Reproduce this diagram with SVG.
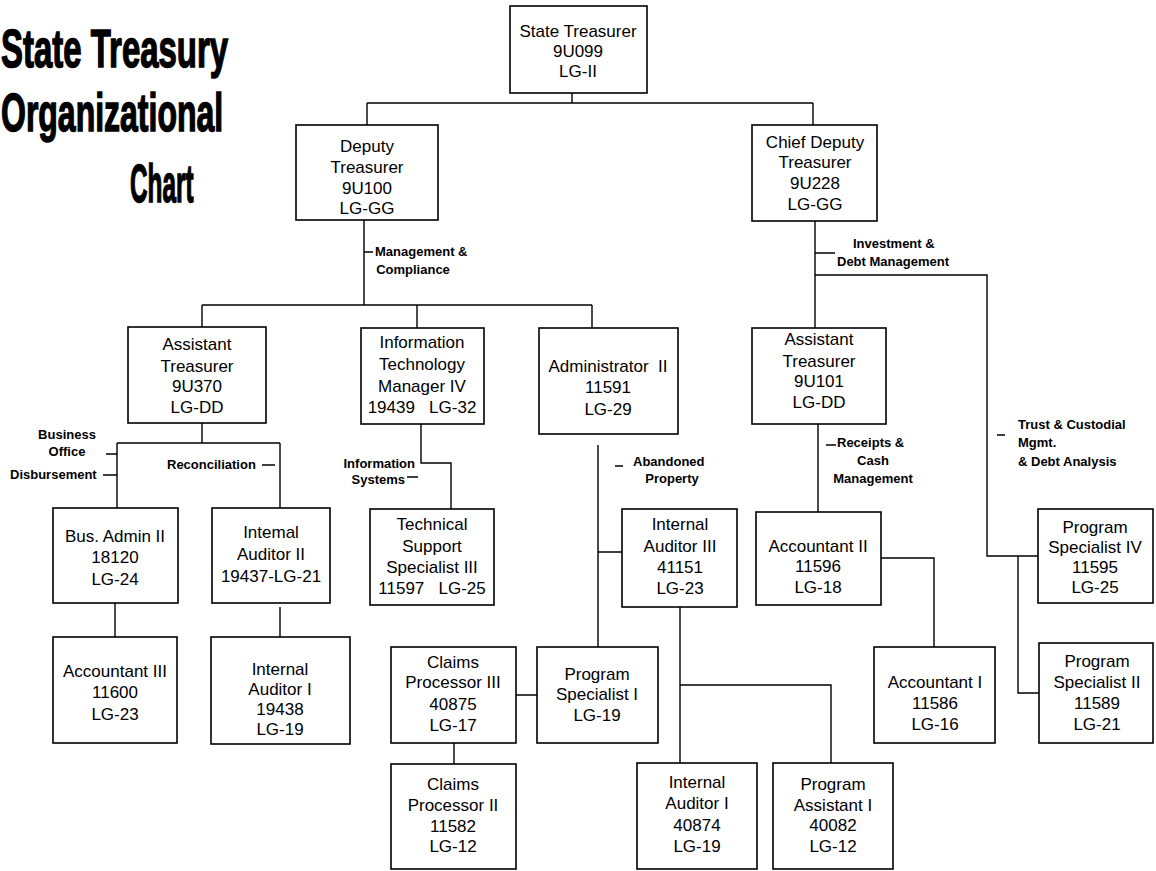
<svg xmlns="http://www.w3.org/2000/svg" width="1156" height="871" viewBox="0 0 1156 871">
<style>
.box{fill:#fff;stroke:#000;stroke-width:1.6}
.n{font-family:"Liberation Sans",Arial,sans-serif;font-size:17px;fill:#000;text-anchor:middle}
.lbl{font-family:"Liberation Sans",Arial,sans-serif;font-size:13px;font-weight:bold;fill:#000}
.c{fill:none;stroke:#000;stroke-width:1.4}
.title{font-family:"Liberation Sans",Arial,sans-serif;font-size:32px;font-weight:bold;fill:#000;stroke:#000;stroke-width:0.9}
</style>
<rect width="1156" height="871" fill="#fff"/>
<g id="title">
<text class="title" transform="translate(1,67) scale(1.03,1.7)">State Treasury</text>
<text class="title" transform="translate(1,131) scale(1.0,1.7)">Organizational</text>
<text class="title" transform="translate(130,202) scale(0.76,1.7)">Chart</text>
</g>
<g id="connectors">
<path class="c" d="M572,93V103M367,103H813M367,103V125M813,103V125"/>
<path class="c" d="M364,220V305M202,305H592M202,305V327M417,305V328M592,305V328M364,252H373"/>
<path class="c" d="M815,221V328M815,253H835M815,275H987V556H1038M1018,556V693H1039M997,435H1005"/>
<path class="c" d="M818,424V512M826,445H836M881,558H934V647"/>
<path class="c" d="M202,423V443M117,443H280M117,443V508M280,443V508M106,454H117M103,475H117M262,465H275"/>
<path class="c" d="M115,603V637M280,607V637"/>
<path class="c" d="M421,424V463H451V509M407,477H418"/>
<path class="c" d="M598,445V647M598,552H622M615,466H623"/>
<path class="c" d="M516,695H537M454,743V764"/>
<path class="c" d="M680,607V763M680,685H831V763"/>
</g>
<g id="labels">
<text class="lbl" x="375" y="256">Management &amp;</text>
<text class="lbl" x="413" y="274" text-anchor="middle">Compliance</text>
<text class="lbl" x="853" y="248">Investment &amp;</text>
<text class="lbl" x="837" y="266">Debt Management</text>
<text class="lbl" x="1018" y="429">Trust &amp; Custodial</text>
<text class="lbl" x="1018" y="447">Mgmt.</text>
<text class="lbl" x="1018" y="466">&amp; Debt Analysis</text>
<text class="lbl" x="837" y="447">Receipts &amp;</text>
<text class="lbl" x="873" y="465" text-anchor="middle">Cash</text>
<text class="lbl" x="873" y="483" text-anchor="middle">Management</text>
<text class="lbl" x="67" y="439" text-anchor="middle">Business</text>
<text class="lbl" x="67" y="456" text-anchor="middle">Office</text>
<text class="lbl" x="10" y="479">Disbursement</text>
<text class="lbl" x="167" y="469">Reconciliation</text>
<text class="lbl" x="415" y="468" text-anchor="end">Information</text>
<text class="lbl" x="405" y="484" text-anchor="end">Systems</text>
<text class="lbl" x="633" y="466">Abandoned</text>
<text class="lbl" x="672" y="483" text-anchor="middle">Property</text>
</g>
<g id="n-state-treasurer"><rect class="box" x="510" y="6" width="137" height="87"/>
<text class="n" x="578" y="37">State Treasurer</text><text class="n" x="578" y="57">9U099</text><text class="n" x="578" y="77">LG-II</text></g>
<g id="n-deputy-treasurer"><rect class="box" x="296" y="125" width="142" height="95"/>
<text class="n" x="367" y="152">Deputy</text><text class="n" x="367" y="173">Treasurer</text><text class="n" x="367" y="194">9U100</text><text class="n" x="367" y="214">LG-GG</text></g>
<g id="n-chief-deputy"><rect class="box" x="752" y="125" width="125" height="96"/>
<text class="n" x="815" y="148">Chief Deputy</text><text class="n" x="815" y="168">Treasurer</text><text class="n" x="815" y="189">9U228</text><text class="n" x="815" y="210">LG-GG</text></g>
<g id="n-asst-treasurer-1"><rect class="box" x="128" y="327" width="138" height="96"/>
<text class="n" x="197" y="350">Assistant</text><text class="n" x="197" y="372">Treasurer</text><text class="n" x="197" y="392">9U370</text><text class="n" x="197" y="413">LG-DD</text></g>
<g id="n-it-manager"><rect class="box" x="361" y="328" width="123" height="96"/>
<text class="n" x="422" y="348">Information</text><text class="n" x="422" y="370">Technology</text><text class="n" x="422" y="392">Manager IV</text><text class="n" x="422" y="413" xml:space="preserve">19439   LG-32</text></g>
<g id="n-administrator"><rect class="box" x="539" y="328" width="139" height="106"/>
<text class="n" x="608" y="372" xml:space="preserve">Administrator  II</text><text class="n" x="608" y="393">11591</text><text class="n" x="608" y="415">LG-29</text></g>
<g id="n-asst-treasurer-2"><rect class="box" x="752" y="328" width="134" height="96"/>
<text class="n" x="819" y="345">Assistant</text><text class="n" x="819" y="367">Treasurer</text><text class="n" x="819" y="387">9U101</text><text class="n" x="819" y="408">LG-DD</text></g>
<g id="n-bus-admin"><rect class="box" x="53" y="508" width="125" height="95"/>
<text class="n" x="115" y="542">Bus. Admin II</text><text class="n" x="115" y="563">18120</text><text class="n" x="115" y="585">LG-24</text></g>
<g id="n-internal-auditor-2"><rect class="box" x="212" y="508" width="118" height="95"/>
<text class="n" x="271" y="538">Intemal</text><text class="n" x="271" y="560">Auditor II</text><text class="n" x="271" y="582">19437-LG-21</text></g>
<g id="n-accountant-3"><rect class="box" x="53" y="637" width="124" height="106"/>
<text class="n" x="115" y="677">Accountant III</text><text class="n" x="115" y="698">11600</text><text class="n" x="115" y="720">LG-23</text></g>
<g id="n-internal-auditor-1a"><rect class="box" x="211" y="637" width="139" height="107"/>
<text class="n" x="280" y="675">Internal</text><text class="n" x="280" y="695">Auditor I</text><text class="n" x="280" y="715">19438</text><text class="n" x="280" y="735">LG-19</text></g>
<g id="n-tech-support"><rect class="box" x="370" y="509" width="124" height="96"/>
<text class="n" x="432" y="530">Technical</text><text class="n" x="432" y="552">Support</text><text class="n" x="432" y="573">Specialist III</text><text class="n" x="432" y="594" xml:space="preserve">11597   LG-25</text></g>
<g id="n-internal-auditor-3"><rect class="box" x="622" y="509" width="115" height="98"/>
<text class="n" x="680" y="530">Internal</text><text class="n" x="680" y="552">Auditor III</text><text class="n" x="680" y="573">41151</text><text class="n" x="680" y="594">LG-23</text></g>
<g id="n-claims-3"><rect class="box" x="391" y="647" width="125" height="96"/>
<text class="n" x="453" y="668">Claims</text><text class="n" x="453" y="688">Processor III</text><text class="n" x="453" y="710">40875</text><text class="n" x="453" y="731">LG-17</text></g>
<g id="n-program-spec-1"><rect class="box" x="537" y="647" width="121" height="96"/>
<text class="n" x="597" y="680">Program</text><text class="n" x="597" y="700">Specialist I</text><text class="n" x="597" y="721">LG-19</text></g>
<g id="n-claims-2"><rect class="box" x="391" y="764" width="125" height="105"/>
<text class="n" x="453" y="790">Claims</text><text class="n" x="453" y="811">Processor II</text><text class="n" x="453" y="832">11582</text><text class="n" x="453" y="852">LG-12</text></g>
<g id="n-internal-auditor-1b"><rect class="box" x="637" y="763" width="120" height="106"/>
<text class="n" x="697" y="788">Internal</text><text class="n" x="697" y="809">Auditor I</text><text class="n" x="697" y="831">40874</text><text class="n" x="697" y="852">LG-19</text></g>
<g id="n-program-asst-1"><rect class="box" x="773" y="763" width="120" height="106"/>
<text class="n" x="833" y="790">Program</text><text class="n" x="833" y="811">Assistant I</text><text class="n" x="833" y="831">40082</text><text class="n" x="833" y="852">LG-12</text></g>
<g id="n-accountant-2"><rect class="box" x="756" y="512" width="125" height="93"/>
<text class="n" x="818" y="552">Accountant II</text><text class="n" x="818" y="572">11596</text><text class="n" x="818" y="593">LG-18</text></g>
<g id="n-accountant-1"><rect class="box" x="874" y="647" width="121" height="96"/>
<text class="n" x="935" y="688">Accountant I</text><text class="n" x="935" y="709">11586</text><text class="n" x="935" y="730">LG-16</text></g>
<g id="n-program-spec-4"><rect class="box" x="1038" y="509" width="115" height="94"/>
<text class="n" x="1095" y="533">Program</text><text class="n" x="1095" y="553">Specialist IV</text><text class="n" x="1095" y="573">11595</text><text class="n" x="1095" y="593">LG-25</text></g>
<g id="n-program-spec-2"><rect class="box" x="1039" y="643" width="114" height="100"/>
<text class="n" x="1097" y="667">Program</text><text class="n" x="1097" y="688">Specialist II</text><text class="n" x="1097" y="709">11589</text><text class="n" x="1097" y="730">LG-21</text></g>
</svg>
